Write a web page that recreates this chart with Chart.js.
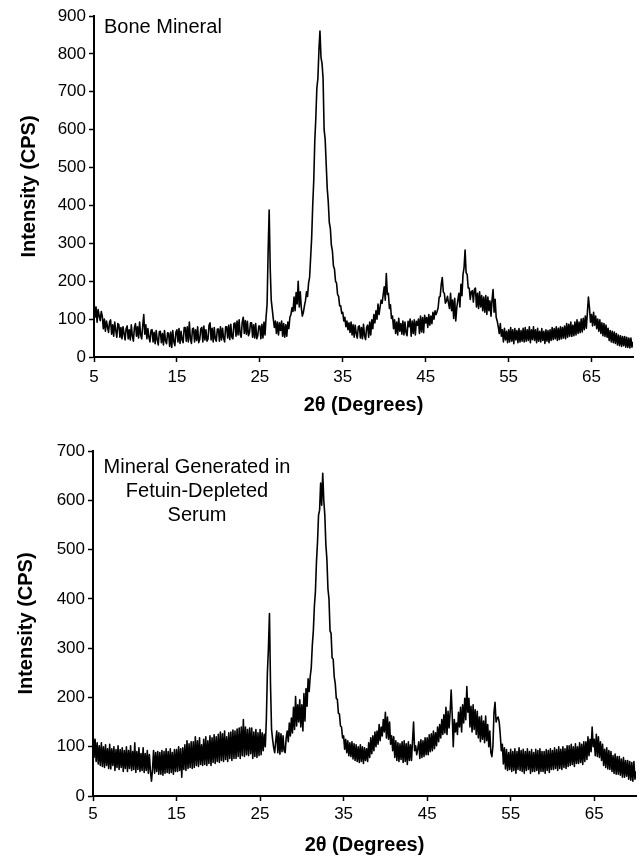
<!DOCTYPE html>
<html>
<head>
<meta charset="utf-8">
<script src="https://cdn.jsdelivr.net/npm/chart.js@4.4.0/dist/chart.umd.min.js"></script>
<style>
  body { margin: 0; background: #fff; }
  canvas { position: absolute; left: 0; }
  #boneChart { top: 0; }
  #serumChart { top: 420px; }
</style>
</head>
<body>
<canvas id="boneChart" width="639" height="420"></canvas>
<canvas id="serumChart" width="639" height="437"></canvas>
<script>
// 2-theta sampling: 5 to 70 degrees every 0.125 degree
const xStart = 5;
const xStep = 0.125;
const xTicks = [5, 15, 25, 35, 45, 55, 65];
const boneYTicks = [0, 100, 200, 300, 400, 500, 600, 700, 800, 900];
const serumYTicks = [0, 100, 200, 300, 400, 500, 600, 700];

// Bone Mineral (one row per degree, 5 .. 69, then 70)
const boneIntensity = [
  150, 105, 132, 92, 125, 108, 96, 120,
  108, 75, 100, 68, 95, 80, 65, 92,
  98, 60, 85, 55, 92, 70, 52, 88,
  85, 52, 78, 48, 80, 62, 45, 75,
  82, 48, 72, 45, 85, 55, 42, 78,
  88, 55, 80, 50, 92, 58, 48, 82,
  112, 60, 85, 48, 75, 52, 40, 70,
  72, 40, 65, 35, 70, 45, 32, 66,
  68, 38, 62, 32, 70, 42, 35, 64,
  62, 28, 66, 25, 70, 40, 30, 65,
  72, 40, 75, 36, 68, 45, 38, 78,
  78, 42, 80, 40, 92, 48, 36, 74,
  76, 40, 72, 44, 80, 38, 46, 74,
  78, 40, 82, 45, 72, 42, 48, 84,
  90, 45, 76, 40, 78, 48, 42, 74,
  74, 42, 80, 45, 76, 50, 40, 80,
  80, 50, 84, 46, 86, 52, 48, 88,
  90, 55, 95, 58, 98, 60, 52, 92,
  105, 62, 96, 60, 94, 56, 64, 90,
  90, 52, 85, 50, 88, 48, 56, 82,
  82, 48, 86, 50, 92, 58, 105, 140,
  280, 388, 235, 150, 125, 100, 78, 95,
  62, 92, 58, 90, 70, 95, 55, 88,
  52, 85, 55, 92, 75, 105, 112, 130,
  120, 158, 122, 170, 140, 200, 132, 172,
  130, 108, 118, 135, 148, 172, 160, 195,
  210, 262, 315, 400, 465, 570, 630, 710,
  735, 810, 860, 790, 775, 735, 600, 575,
  510, 445, 410, 355, 340, 295, 280, 240,
  232, 200, 195, 165, 160, 135, 135, 115,
  118, 95, 105, 80, 95, 72, 90, 65,
  92, 58, 85, 52, 84, 62, 50, 80,
  82, 50, 78, 48, 86, 56, 46, 78,
  84, 52, 92, 58, 98, 75, 112, 90,
  122, 100, 140, 112, 132, 150, 142, 165,
  185, 150, 220, 165, 168, 128, 138, 102,
  108, 75, 98, 62, 92, 58, 102, 68,
  88, 60, 95, 58, 92, 64, 56, 94,
  80, 100, 55, 95, 62, 98, 58, 94,
  84, 100, 62, 108, 66, 104, 64, 110,
  90, 104, 78, 112, 84, 108, 88, 118,
  100, 122, 112, 120, 130, 158, 160, 192,
  210, 172, 168, 142, 148, 160, 142, 128,
  168, 122, 150, 102, 155, 95, 130, 150,
  168, 132, 192, 162, 218, 235, 282, 222,
  218, 182, 182, 152, 172, 175, 145, 178,
  182, 132, 168, 128, 172, 132, 162, 122,
  158, 118, 162, 112, 158, 122, 148, 108,
  150, 178, 118, 152, 105, 95, 80, 62,
  88, 55, 72, 40, 76, 45, 68, 38,
  72, 40, 78, 42, 72, 35, 75, 45,
  70, 38, 75, 40, 70, 42, 76, 40,
  78, 42, 72, 44, 80, 38, 72, 46,
  80, 44, 72, 38, 76, 42, 68, 40,
  75, 44, 68, 36, 72, 42, 70, 38,
  72, 44, 78, 46, 75, 48, 80, 44,
  76, 46, 80, 48, 78, 50, 82, 48,
  88, 52, 86, 55, 92, 54, 84, 56,
  92, 58, 98, 62, 92, 64, 100, 66,
  102, 72, 108, 76, 118, 158, 130, 92,
  112, 82, 118, 84, 108, 75, 100, 68,
  98, 62, 90, 56, 88, 54, 84, 52,
  76, 44, 70, 40, 68, 38, 66, 36,
  62, 32, 58, 30, 56, 28, 54, 30,
  54, 26, 52, 25, 50, 24, 50, 26,
  40
];

// Mineral generated in fetuin-depleted serum, bottom panel
const serumIntensity = [
  135, 78, 115, 70, 108, 65, 102, 62,
  108, 60, 100, 58, 104, 62, 96, 56,
  105, 55, 96, 62, 100, 52, 94, 58,
  102, 54, 94, 58, 98, 50, 92, 56,
  100, 50, 92, 56, 102, 52, 90, 54,
  108, 48, 90, 54, 98, 50, 86, 52,
  98, 48, 86, 52, 92, 46, 84, 50,
  30, 54, 92, 46, 88, 50, 90, 44,
  88, 44, 92, 42, 90, 46, 96, 48,
  90, 46, 96, 48, 88, 44, 94, 50,
  94, 50, 100, 52, 96, 38, 98, 54,
  104, 52, 112, 56, 106, 58, 110, 56,
  110, 58, 120, 62, 112, 60, 118, 64,
  104, 62, 115, 64, 120, 62, 112, 66,
  122, 62, 118, 68, 124, 66, 120, 70,
  125, 68, 130, 72, 126, 70, 132, 74,
  120, 70, 128, 76, 130, 72, 134, 76,
  132, 76, 136, 80, 138, 76, 140, 82,
  155, 80, 140, 84, 135, 82, 138, 86,
  138, 76, 130, 80, 135, 78, 128, 82,
  135, 84, 128, 92, 125, 100, 155, 250,
  300, 370, 225, 135, 115, 98, 88, 112,
  132, 88, 128, 85, 126, 90, 122, 92,
  88, 118, 132, 110, 148, 122, 158, 128,
  180, 135, 202, 142, 185, 150, 195, 140,
  185, 132, 208, 152, 218, 182, 238, 212,
  242, 260, 305, 335, 385, 415, 475, 515,
  570, 580, 635, 590, 655, 600, 570, 510,
  480, 420, 400, 335, 330, 280, 278, 242,
  228, 198, 196, 168, 166, 142, 140, 118,
  122, 95, 115, 88, 112, 82, 108, 80,
  110, 75, 106, 72, 104, 70, 100, 68,
  104, 70, 100, 66, 98, 72, 96, 70,
  108, 78, 118, 86, 122, 92, 130, 100,
  132, 105, 145, 112, 140, 122, 155, 130,
  170, 118, 160, 115, 150, 105, 122, 92,
  120, 78, 112, 72, 108, 70, 106, 74,
  110, 68, 112, 70, 106, 64, 110, 72,
  104, 72, 112, 150, 92, 102, 84, 96,
  110, 76, 114, 78, 112, 80, 118, 84,
  118, 84, 124, 90, 126, 92, 132, 96,
  128, 102, 140, 110, 145, 118, 155, 125,
  165, 128, 180, 125, 172, 138, 170, 215,
  165, 100, 155, 130, 148, 125, 170, 140,
  180, 130, 185, 148, 198, 155, 222, 170,
  198, 140, 182, 130, 185, 135, 175, 125,
  172, 118, 160, 110, 162, 115, 152, 108,
  162, 112, 145, 100, 132, 88, 80, 102,
  170, 190, 150, 158, 160, 150, 125, 92,
  105, 65, 98, 55, 94, 52, 88, 54,
  95, 50, 90, 52, 96, 46, 90, 54,
  98, 52, 92, 50, 95, 46, 90, 52,
  96, 54, 90, 46, 94, 50, 88, 50,
  95, 52, 92, 45, 96, 50, 90, 50,
  90, 46, 94, 52, 92, 48, 96, 54,
  92, 54, 98, 56, 94, 52, 100, 56,
  95, 54, 100, 58, 96, 56, 102, 60,
  102, 62, 105, 64, 100, 60, 106, 66,
  100, 66, 108, 68, 105, 64, 110, 70,
  110, 74, 120, 82, 115, 90, 140, 100,
  115, 82, 125, 80, 120, 78, 110, 72,
  105, 62, 95, 58, 98, 55, 92, 54,
  90, 50, 82, 46, 85, 44, 80, 44,
  80, 42, 75, 38, 78, 38, 72, 40,
  72, 34, 70, 32, 68, 30, 70, 34,
  50
];

const family = 'Arial, "Liberation Sans", sans-serif';

// sample label inside the plot
const notePlugin = {
  id: 'note',
  afterDraw(chart, args, opts) {
    const ctx = chart.ctx;
    ctx.save();
    ctx.font = '20px ' + family;
    ctx.fillStyle = '#000';
    ctx.textAlign = opts.align;
    ctx.textBaseline = 'alphabetic';
    opts.lines.forEach((t, i) => ctx.fillText(t, opts.x, opts.y + i * 24));
    ctx.restore();
  }
};

function drawPattern(id, values, yTicks, note, box) {
  const points = values.map((v, i) => ({ x: xStart + i * xStep, y: v }));
  return new Chart(document.getElementById(id), {
    type: 'line',
    data: {
      datasets: [{
        data: points,
        borderColor: '#000',
        borderWidth: 1.6,
        borderJoinStyle: 'round',
        pointRadius: 0,
        tension: 0,
        fill: false
      }]
    },
    options: {
      responsive: false,
      animation: false,
      devicePixelRatio: 1,
      layout: { padding: { top: box.top, right: box.right, left: 0, bottom: 0 } },
      plugins: { legend: { display: false }, tooltip: { enabled: false }, note: note },
      scales: {
        x: {
          type: 'linear',
          min: 5,
          max: 70,
          afterBuildTicks: s => { s.ticks = xTicks.map(v => ({ value: v })); },
          afterFit: s => { s.height = box.xHeight; },
          grid: { drawOnChartArea: false, color: '#000', tickLength: 5, tickWidth: 1.5 },
          border: { color: '#000', width: 2 },
          ticks: { color: '#000', font: { size: 17, family: family }, padding: box.xPad, maxRotation: 0 },
          title: {
            display: true, text: '2θ (Degrees)', color: '#000',
            font: { size: 20, weight: 'bold', family: family },
            padding: { top: 0, bottom: box.xTitlePad }
          }
        },
        y: {
          min: 0,
          max: yTicks[yTicks.length - 1],
          afterBuildTicks: s => { s.ticks = yTicks.map(v => ({ value: v })); },
          afterFit: s => { s.width = box.yWidth; },
          grid: { drawOnChartArea: false, color: '#000', tickLength: 5, tickWidth: 1.5 },
          border: { color: '#000', width: 2 },
          ticks: { color: '#000', font: { size: 17, family: family }, padding: 3 },
          title: {
            display: true, text: 'Intensity (CPS)', color: '#000',
            font: { size: 20, weight: 'bold', family: family },
            padding: { top: box.yTitlePad, bottom: 0 }
          }
        }
      }
    },
    plugins: [notePlugin]
  });
}

drawPattern('boneChart', boneIntensity, boneYTicks,
  { lines: ['Bone Mineral'], x: 104, y: 33, align: 'left' },
  { top: 16, right: 6, xHeight: 63, yWidth: 94, xPad: 5, xTitlePad: 3, yTitlePad: 17 });

drawPattern('serumChart', serumIntensity, serumYTicks,
  { lines: ['Mineral Generated in', 'Fetuin-Depleted', 'Serum'], x: 197, y: 53, align: 'center' },
  { top: 31, right: 3, xHeight: 61, yWidth: 93, xPad: 3, xTitlePad: 0, yTitlePad: 14 });
</script>
</body>
</html>
